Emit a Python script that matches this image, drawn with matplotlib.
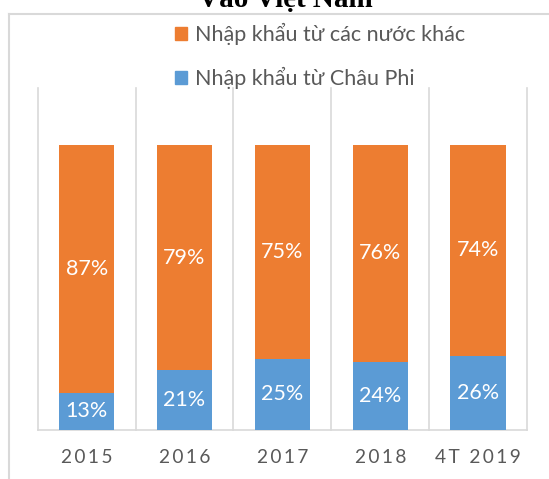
import matplotlib
matplotlib.use("Agg")
import matplotlib.pyplot as plt
from matplotlib.lines import Line2D
from matplotlib.patches import Patch
import numpy as np

categories = ["2015", "2016", "2017", "2018", "4T 2019"]
africa = [13, 21, 25, 24, 26]
others = [87, 79, 75, 76, 74]
series_names = ["Nhập khẩu từ các nước khác", "Nhập khẩu từ Châu Phi"]
title = "Vào Việt Nam"

BLUE = "#5B9BD5"
ORANGE = "#ED7D31"
GRID = "#D9D9D9"
TXT = "#595959"
FONT = ["Lato", "Noto Sans", "DejaVu Sans"]

plt.rcParams["font.family"] = FONT

W, H = 549, 479
fig = plt.figure(figsize=(W / 100, H / 100), dpi=100)
ax = fig.add_axes([37.7 / W, (H - 430) / H, (527 - 37.7) / W, (430 - 88) / H])

x = np.arange(len(categories))
a = np.array(africa) / 100
o = np.array(others) / 100
bw = 0.565
ax.bar(x, a, width=bw, color=BLUE, zorder=3)
ax.bar(x, o, width=bw, bottom=a, color=ORANGE, zorder=3)

for i in range(len(categories)):
    ax.text(x[i], a[i] / 2, f"{africa[i]}%", ha="center", va="center",
            color="white", fontsize=15.5, zorder=4)
    ax.text(x[i], a[i] + o[i] / 2, f"{others[i]}%", ha="center", va="center",
            color="white", fontsize=15.5, zorder=4)

ax.set_xlim(-0.5, len(categories) - 0.5)
ax.set_ylim(0, 1.2)
for b in np.arange(len(categories) + 1) - 0.5:
    ax.axvline(b, color=GRID, lw=1.2, zorder=1, clip_on=False)

for s in ["left", "right", "top"]:
    ax.spines[s].set_visible(False)
ax.spines["bottom"].set_color(GRID)
ax.spines["bottom"].set_linewidth(1.2)
ax.set_yticks([])
ax.set_xticks(x)
ax.set_xticklabels(["\u2009".join(list(c)) for c in categories],
                   fontsize=13.8, color=TXT)
ax.tick_params(axis="x", length=0, pad=14)

# chart border (cropped)
fig.add_artist(Line2D([8.75 / W, 1.0], [1 - 14 / H, 1 - 14 / H],
                      transform=fig.transFigure, color=GRID, lw=1.5))
fig.add_artist(Line2D([8.75 / W, 8.75 / W], [0, 1 - 14 / H],
                      transform=fig.transFigure, color=GRID, lw=1.5))

# title (partially cropped, as in the source)
fig.text(285 / W, 1 - 7.5 / H, title, ha="center", va="baseline",
         fontsize=21, fontweight="bold", family="Liberation Serif", color="black")

handles = [Patch(color=ORANGE), Patch(color=BLUE)]
fig.legend(handles, series_names, loc="upper left",
           bbox_to_anchor=(175 / W, 1 - 23 / H), frameon=False,
           fontsize=15.5, labelcolor=TXT, handlelength=0.58, handleheight=0.58,
           handletextpad=0.33, labelspacing=1.0, borderpad=0, borderaxespad=0)

fig.savefig("out.png", dpi=100)
